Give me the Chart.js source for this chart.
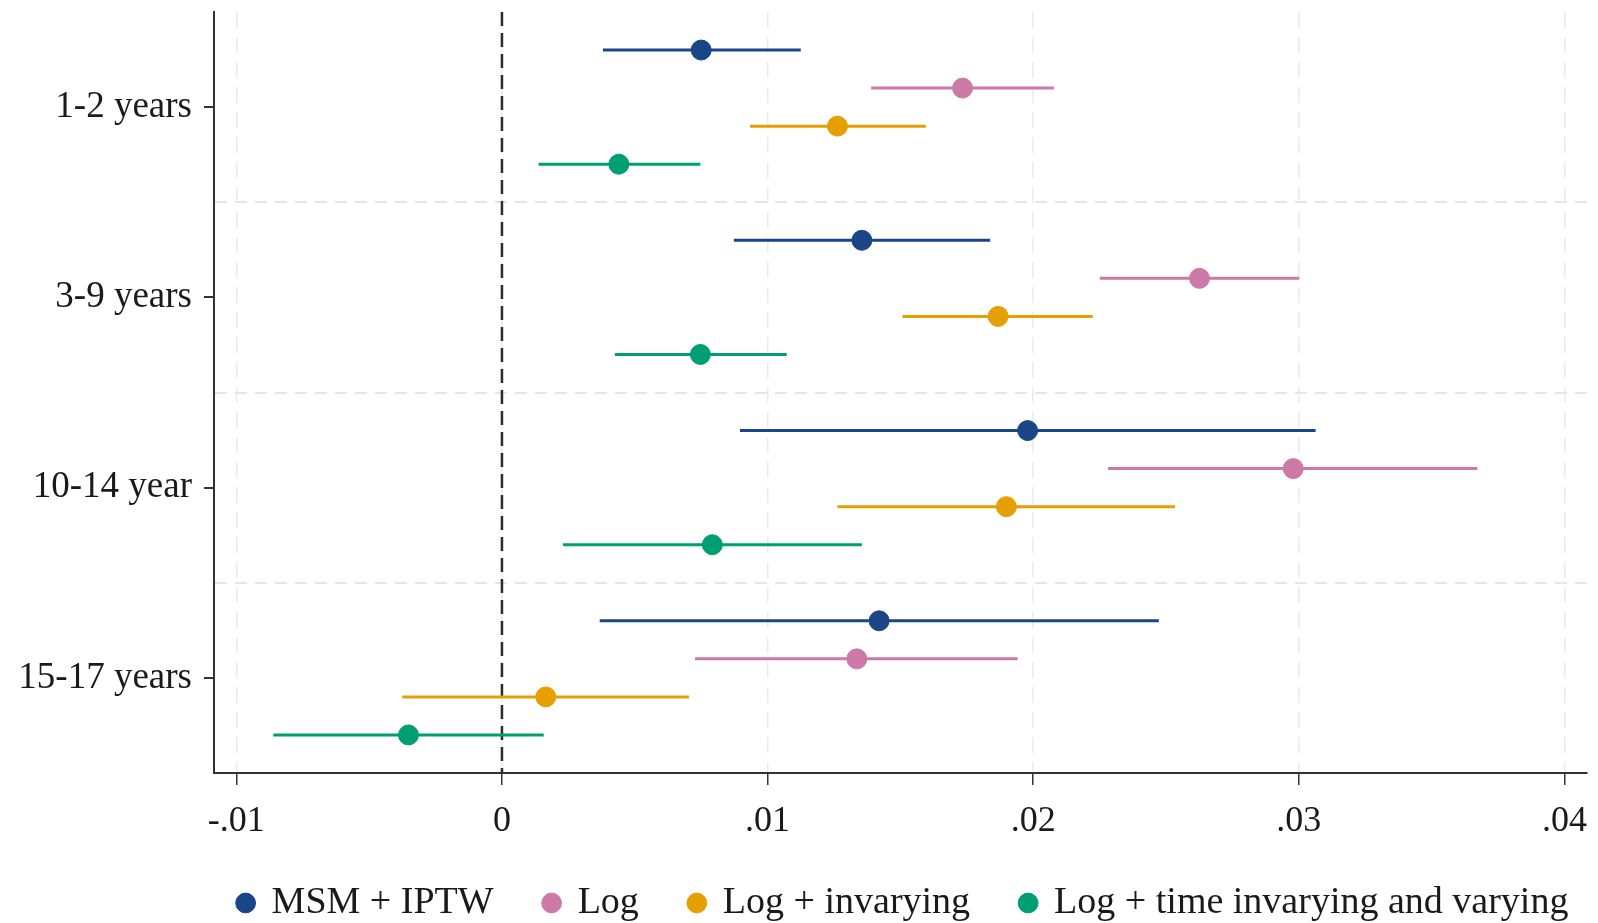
<!DOCTYPE html>
<html>
<head>
<meta charset="utf-8">
<title>Estimates by age group</title>
<script src="https://cdn.jsdelivr.net/npm/chart.js@4"></script>
<style>
  html, body { margin: 0; padding: 0; background: #fff; }
  #wrap { width: 1598px; height: 923px; position: relative; }
</style>
</head>
<body>
<div id="wrap"><canvas id="forest"></canvas></div>
<script>
// Age groups (top to bottom) and model names
const categories = ['1-2 years', '3-9 years', '10-14 year', '15-17 years'];
const seriesNames = ['MSM + IPTW', 'Log', 'Log + invarying', 'Log + time invarying and varying'];
const seriesColors = ['#1a4586', '#cc79a7', '#e69f00', '#009e73'];

// Point estimates and 95% CI bounds, one value per age group
const msmEst = [0.0075, 0.01355, 0.01979, 0.0142];
const msmLo  = [0.0038, 0.00873, 0.00896, 0.00368];
const msmHi  = [0.01125, 0.01838, 0.03063, 0.02473];

const logEst = [0.01734, 0.02626, 0.02979, 0.01336];
const logLo  = [0.0139, 0.02251, 0.02282, 0.00727];
const logHi  = [0.02079, 0.03002, 0.03672, 0.01941];

const invEst = [0.01263, 0.01868, 0.01899, 0.00165];
const invLo  = [0.00934, 0.01508, 0.01263, -0.00375];
const invHi  = [0.01596, 0.02224, 0.02534, 0.00704];

const tvEst = [0.0044, 0.00747, 0.00792, -0.00352];
const tvLo  = [0.00138, 0.00425, 0.0023, -0.00861];
const tvHi  = [0.00747, 0.01072, 0.01355, 0.00157];

const xTickValues = [-0.01, 0, 0.01, 0.02, 0.03, 0.04];
const xTickLabels = ['-.01', '0', '.01', '.02', '.03', '.04'];

const estimates = [msmEst, logEst, invEst, tvEst];
const lowers = [msmLo, logLo, invLo, tvLo];
const uppers = [msmHi, logHi, invHi, tvHi];

// each series sits in its own slot inside the age-group band
const slot = [-0.3, -0.1, 0.1, 0.3];

const serif = "'Liberation Serif', 'Times New Roman', serif";
const ink = '#1a1a1a';

const datasets = [];
seriesNames.forEach((name, s) => {
    datasets.push({
        label: name,
        data: estimates[s].map((v, i) => ({ x: v, y: i + slot[s] })),
        backgroundColor: seriesColors[s],
        borderColor: seriesColors[s],
        pointRadius: 10,
        pointHoverRadius: 10,
        pointStyle: 'circle',
        order: 0
    });
});
seriesNames.forEach((name, s) => {
    const pts = [];
    categories.forEach((c, i) => {
        pts.push({ x: lowers[s][i], y: i + slot[s] });
        pts.push({ x: uppers[s][i], y: i + slot[s] });
        pts.push({ x: uppers[s][i], y: null });
    });
    datasets.push({
        label: name + ' CI',
        data: pts,
        showLine: true,
        spanGaps: false,
        borderColor: seriesColors[s],
        borderWidth: 3,
        pointRadius: 0,
        order: 1
    });
});
// reference line at zero
datasets.push({
    label: 'zero',
    data: [{ x: 0, y: -0.5 }, { x: 0, y: categories.length - 0.5 }],
    showLine: true,
    borderColor: '#2b2b2b',
    borderWidth: 2.5,
    borderDash: [14, 7],
    pointRadius: 0,
    order: 2
});

// keep the legend under the plot region rather than the whole canvas
const legendPlacement = {
    id: 'legendPlacement',
    afterLayout(chart) {
        const lg = chart.legend, ca = chart.chartArea;
        const dx = (ca.left + ca.right - lg.left - lg.right) / 2 + 3;
        lg.left += dx;
        lg.right += dx;
        lg.top -= 26;
        lg.bottom -= 26;
    }
};

new Chart(document.getElementById('forest'), {
    type: 'scatter',
    data: { datasets },
    plugins: [legendPlacement],
    options: {
        responsive: true,
        maintainAspectRatio: false,
        animation: false,
        layout: { padding: { top: 12, right: 0, bottom: -35, left: 14 } },
        scales: {
            x: {
                type: 'linear',
                min: -0.010841,
                max: 0.040849,
                afterBuildTicks: (scale) => { scale.ticks = xTickValues.map(v => ({ value: v })); },
                afterFit: (scale) => { scale.paddingLeft = 0; scale.paddingRight = 0; },
                ticks: {
                    callback: (v, i) => xTickLabels[i],
                    font: { family: serif, size: 36, lineHeight: 1 },
                    color: ink,
                    padding: 19,
                    maxRotation: 0
                },
                grid: {
                    color: '#ebebeb',
                    lineWidth: 1.5,
                    tickColor: '#333',
                    tickWidth: 1.5,
                    tickLength: 12
                },
                border: { display: true, color: '#333', width: 2, dash: [16, 9] }
            },
            y: {
                type: 'linear',
                reverse: true,
                min: -0.5,
                max: categories.length - 0.5,
                afterBuildTicks: (scale) => {
                    const t = [];
                    for (let i = 0; i < categories.length; i++) {
                        t.push({ value: i });
                        if (i < categories.length - 1) t.push({ value: i + 0.5 });
                    }
                    scale.ticks = t;
                },
                afterFit: (scale) => {
                    scale.width = 200;
                    scale.paddingTop = 0;
                    scale.paddingBottom = 0;
                },
                ticks: {
                    callback: (v) => Number.isInteger(v) ? categories[v] : '',
                    font: { family: serif, size: 37 },
                    color: ink,
                    padding: 12
                },
                grid: {
                    color: (c) => Number.isInteger(c.tick && c.tick.value) ? 'rgba(0,0,0,0)' : '#e6e6e6',
                    lineWidth: 2,
                    tickColor: (c) => Number.isInteger(c.tick && c.tick.value) ? '#333' : 'rgba(0,0,0,0)',
                    tickWidth: 2,
                    tickLength: 10
                },
                border: { display: true, color: '#333', width: 2, dash: [12, 8] }
            }
        },
        plugins: {
            legend: {
                position: 'bottom',
                labels: {
                    usePointStyle: true,
                    pointStyle: 'circle',
                    boxWidth: 14,
                    boxHeight: 14,
                    padding: 51,
                    color: ink,
                    font: { family: serif, size: 38 },
                    filter: (item) => item.datasetIndex < seriesNames.length
                }
            },
            tooltip: { enabled: false }
        }
    }
});
</script>
</body>
</html>
